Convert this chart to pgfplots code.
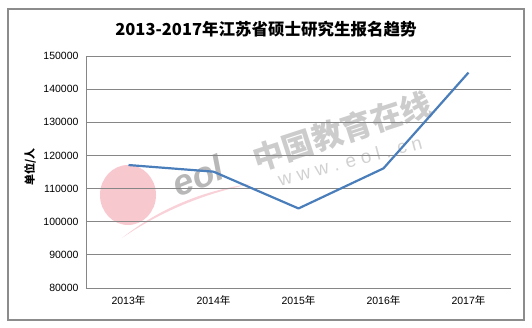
\documentclass[border=0pt]{standalone}
\usepackage{fontspec}
\setmainfont{Liberation Sans}
\newfontfamily\cjk{Noto Sans CJK SC}
\usepackage{pgfplots}
\pgfplotsset{compat=1.18}
\definecolor{lineblue}{HTML}{4A7EBB}
\definecolor{gridgray}{HTML}{868686}
\definecolor{framegray}{HTML}{8C8C8C}
\definecolor{wmpink}{HTML}{F29AA8}
\definecolor{wmgray}{HTML}{9A9A9A}
\begin{document}
\begin{tikzpicture}[x=1pt,y=1pt]
\path (-86,-40) rectangle (446,288);
\draw[framegray, line width=1.3pt] (-78,-32) rectangle (438,279);
% watermark
\fill[wmpink, opacity=0.55] (42,93) ellipse [x radius=28, y radius=30];
\fill[wmpink, opacity=0.45] (36,50) .. controls (80,85) and (130,100) .. (165,104) .. controls (125,96) and (80,80) .. (36,50) -- cycle;
\node[wmgray, opacity=0.7, rotate=22, font=\fontsize{36}{36}\selectfont\bfseries\itshape] at (112,112) {eol};
\node[wmgray, opacity=0.5, rotate=18, font=\cjk\bfseries\fontsize{31}{31}\selectfont] at (256,157) {中国教育在线};
\node[wmgray, opacity=0.45, rotate=15, font=\fontsize{19}{19}\selectfont] at (264,127) {w w w . e o l . c n};
\node[font=\cjk\bfseries\fontsize{16.5}{18}\selectfont] at (180,259) {2013-2017年江苏省硕士研究生报名趋势};
\begin{axis}[
  at={(0,0)}, anchor=south west,
  scale only axis, width=425pt, height=232pt,
  xmin=-0.5, xmax=4.5, ymin=80000, ymax=150000,
  xtick={0,1,2,3,4},
  xticklabels={2013{\cjk 年},2014{\cjk 年},2015{\cjk 年},2016{\cjk 年},2017{\cjk 年}},
  ytick={80000,90000,100000,110000,120000,130000,140000,150000},
  yticklabels={80000,90000,100000,110000,120000,130000,140000,150000},
  scaled y ticks=false,
  axis lines=left,
  axis line style={gridgray, line width=0.9pt, -},
  ymajorgrids,
  grid style={gridgray, line width=0.9pt},
  major tick length=0pt,
  tick label style={font=\fontsize{10.5}{12}\selectfont, text=black},
  yticklabel style={xshift=-4pt},
  xticklabel style={yshift=-4pt},
  ylabel={\cjk\bfseries 单位/人},
  ylabel style={at={(axis description cs:-0.1318,0.52)}, anchor=center, font=\fontsize{11}{12}\selectfont},
  clip=false,
]
\addplot[lineblue, line width=2.2pt, line join=round] coordinates {
  (0,117100) (1,115100) (2,104000) (3,116100) (4,145000)
};
\end{axis}
\end{tikzpicture}
\end{document}
